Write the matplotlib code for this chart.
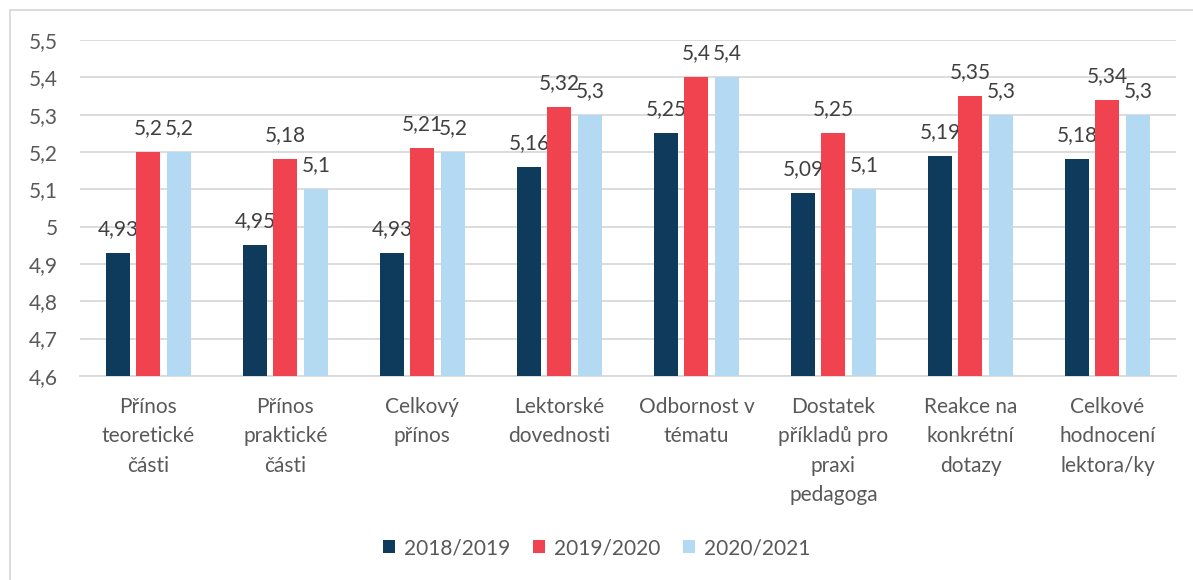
import matplotlib.pyplot as plt
import matplotlib as mp
import numpy as np

mp.rcParams.update({'font.size': 15, 'font.family': ['Lato', 'DejaVu Sans']})

categories = ['Přínos\nteoretické\nčásti', 'Přínos\npraktické\nčásti', 'Celkový\npřínos',
              'Lektorské\ndovednosti', 'Odbornost v\ntématu', 'Dostatek\npříkladů pro\npraxi\npedagoga',
              'Reakce na\nkonkrétní\ndotazy', 'Celkové\nhodnocení\nlektora/ky']
series_names = ['2018/2019', '2019/2020', '2020/2021']
vals_2018 = [4.93, 4.95, 4.93, 5.16, 5.25, 5.09, 5.19, 5.18]
vals_2019 = [5.2, 5.18, 5.21, 5.32, 5.4, 5.25, 5.35, 5.34]
vals_2020 = [5.2, 5.1, 5.2, 5.3, 5.4, 5.1, 5.3, 5.3]
y_ticks = [4.6, 4.7, 4.8, 4.9, 5.0, 5.1, 5.2, 5.3, 5.4, 5.5]

colors = ['#0E3A5C', '#F0434F', '#B4D9F2']
text_col = '#595959'
grid_col = '#D9D9D9'


def fmt(v):
    # czech style decimal comma, no trailing zeros
    s = ('%.2f' % v).rstrip('0').rstrip('.')
    return s.replace('.', ',')


fig = plt.figure(figsize=(11.93, 5.8), dpi=100, facecolor='w')
ax = fig.add_axes([0.067, 0.352, 0.9187, 0.579])

x = np.arange(len(categories))
width = 0.175
step = 0.223

for i, vals in enumerate([vals_2018, vals_2019, vals_2020]):
    pos = x + (i - 1) * step
    ax.bar(pos, np.array(vals) - 4.6, width, bottom=4.6, color=colors[i], label=series_names[i], zorder=3)
    for p, v in zip(pos, vals):
        ax.annotate(fmt(v), xy=(p, v), xytext=(0, 10), textcoords='offset points',
                    ha='center', va='bottom', color='#404040', fontsize=15)

# Y-As #
ax.set_ylim(4.6, 5.5)
ax.set_yticks(y_ticks)
ax.set_yticklabels([fmt(t) for t in y_ticks])
ax.yaxis.grid(True, color=grid_col, linewidth=1.3, zorder=0)
ax.tick_params(axis='y', length=0, pad=16, colors=text_col)

# X-As #
ax.set_xlim(-0.5, len(categories) - 0.5)
ax.set_xticks(x)
ax.set_xticklabels(categories, linespacing=1.6, va='top')
ax.tick_params(axis='x', length=0, pad=15, colors=text_col)

for s in ['top', 'right', 'left']:
    ax.spines[s].set_visible(False)
ax.spines['bottom'].set_color(grid_col)
ax.spines['bottom'].set_linewidth(1.3)

leg = fig.legend(loc='center', bbox_to_anchor=(0.5, 0.055), ncol=3, frameon=False,
                 handlelength=0.6, handleheight=0.6, handletextpad=0.4, columnspacing=1.1,
                 fontsize=15)
for t in leg.get_texts():
    t.set_color(text_col)

# chart border (cut off at right/bottom in reference)
fig.add_artist(plt.Rectangle((10 / 1193, -0.1), 1.2, 1.1 - 10 / 580, transform=fig.transFigure,
                             fill=False, edgecolor='#D9D9D9', linewidth=1.3))

plt.savefig('out.png')
plt.close()
